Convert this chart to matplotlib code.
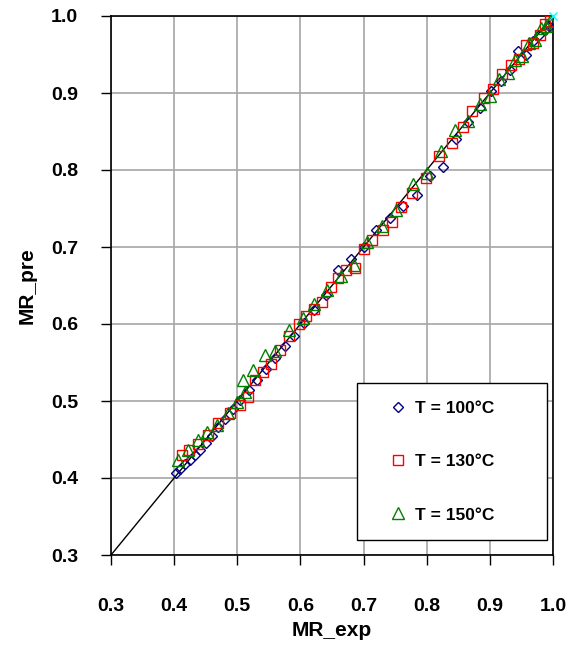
import matplotlib
matplotlib.use("Agg")
import matplotlib.pyplot as plt

plt.rcParams['font.family'] = ['Liberation Sans', 'DejaVu Sans']
plt.rcParams['font.weight'] = 'bold'

# Data
mr_exp_100 = [0.403, 0.410, 0.417, 0.425, 0.433, 0.441, 0.450, 0.460, 0.470, 0.481,
              0.493, 0.505, 0.518, 0.531, 0.545, 0.560, 0.575, 0.590, 0.606, 0.622,
              0.640, 0.660, 0.680, 0.700, 0.720, 0.742, 0.763, 0.785, 0.805, 0.826,
              0.846, 0.866, 0.885, 0.902, 0.918, 0.932, 0.945, 0.957, 0.968, 0.978,
              0.987, 0.994, 1.000]
mr_pre_100 = [0.407, 0.412, 0.418, 0.423, 0.430, 0.437, 0.446, 0.455, 0.466, 0.477,
              0.489, 0.501, 0.514, 0.527, 0.541, 0.556, 0.572, 0.585, 0.601, 0.618,
              0.638, 0.670, 0.684, 0.700, 0.722, 0.738, 0.753, 0.768, 0.792, 0.804,
              0.840, 0.862, 0.880, 0.902, 0.915, 0.930, 0.955, 0.950, 0.968, 0.975,
              0.982, 0.987, 0.992]

mr_exp_130 = [0.412, 0.424, 0.438, 0.454, 0.470, 0.488, 0.504, 0.517, 0.528, 0.540,
              0.553, 0.568, 0.582, 0.598, 0.609, 0.622, 0.634, 0.648, 0.660, 0.672,
              0.686, 0.700, 0.713, 0.730, 0.745, 0.760, 0.777, 0.799, 0.820, 0.840,
              0.857, 0.872, 0.890, 0.905, 0.920, 0.933, 0.946, 0.958, 0.969, 0.979,
              0.988, 0.995]
mr_pre_130 = [0.430, 0.436, 0.444, 0.456, 0.471, 0.484, 0.495, 0.505, 0.527, 0.538,
              0.548, 0.566, 0.584, 0.600, 0.610, 0.620, 0.629, 0.648, 0.660, 0.670,
              0.673, 0.697, 0.709, 0.722, 0.732, 0.752, 0.770, 0.790, 0.818, 0.835,
              0.856, 0.877, 0.893, 0.905, 0.925, 0.936, 0.944, 0.962, 0.965, 0.975,
              0.990, 0.993]

mr_exp_150 = [0.406, 0.422, 0.438, 0.452, 0.468, 0.485, 0.500, 0.509, 0.512, 0.525,
              0.544, 0.560, 0.582, 0.604, 0.622, 0.642, 0.664, 0.685, 0.706, 0.729,
              0.751, 0.778, 0.800, 0.822, 0.845, 0.866, 0.884, 0.900, 0.915, 0.928,
              0.940, 0.951, 0.962, 0.972, 0.981, 0.989, 0.996]
mr_pre_150 = [0.423, 0.436, 0.449, 0.460, 0.469, 0.484, 0.499, 0.527, 0.512, 0.540,
              0.560, 0.565, 0.592, 0.608, 0.626, 0.644, 0.662, 0.677, 0.706, 0.727,
              0.748, 0.782, 0.796, 0.825, 0.852, 0.864, 0.886, 0.896, 0.918, 0.926,
              0.943, 0.948, 0.965, 0.969, 0.984, 0.987, 0.994]

ref_x = [0.3, 1.0]
ref_y = [0.3, 1.0]

labels = ['T = 100°C', 'T = 130°C', 'T = 150°C']
ticks = [0.3, 0.4, 0.5, 0.6, 0.7, 0.8, 0.9, 1.0]
tick_labels = ['0.3', '0.4', '0.5', '0.6', '0.7', '0.8', '0.9', '1.0']

fig = plt.figure(figsize=(5.82, 6.55), dpi=100)
ax = fig.add_axes([111/582, 1-555/655, 442/582, 539/655])

ax.plot(ref_x, ref_y, color='black', lw=1.0, zorder=2)
ax.plot(mr_exp_100, mr_pre_100, linestyle='none', marker='D', ms=5.5, mfc='none',
        mec='#000080', mew=1.0, label=labels[0], zorder=3)
ax.plot(mr_exp_130, mr_pre_130, linestyle='none', marker='s', ms=7.5, mfc='none',
        mec='#FF0000', mew=1.0, label=labels[1], zorder=3)
ax.plot(mr_exp_150, mr_pre_150, linestyle='none', marker='^', ms=8, mfc='none',
        mec='#008000', mew=1.0, label=labels[2], zorder=3)
ax.plot([1.0], [1.0], linestyle='none', marker='x', ms=6, color='#00FFFF', mew=1.0,
        zorder=4, clip_on=False)

ax.set_xlim(0.3, 1.0)
ax.set_ylim(0.3, 1.0)
ax.set_xticks(ticks)
ax.set_xticklabels(tick_labels)
ax.set_yticks(ticks)
ax.set_yticklabels(tick_labels)
ax.grid(True, color='#a6a6a6', lw=1.2)
ax.set_axisbelow(True)

for s in ax.spines.values():
    s.set_color('black')
    s.set_linewidth(1.2)

ax.tick_params(axis='both', direction='out', length=7.2, width=1.0, colors='black',
               labelsize=14)
ax.tick_params(axis='x', pad=24)
ax.tick_params(axis='y', pad=16.5)
for lab in ax.get_xticklabels() + ax.get_yticklabels():
    lab.set_fontweight('bold')

ax.set_xlabel('MR_exp', fontsize=15, fontweight='bold', labelpad=4)
ax.set_ylabel('MR_pre', fontsize=15, fontweight='bold', labelpad=10)

leg = ax.legend(loc='lower left', bbox_to_anchor=(0.557, 0.028, 0.429, 0.291),
                mode='expand', borderaxespad=0, frameon=True, fancybox=False,
                borderpad=1.0, labelspacing=2.2, handlelength=2.75,
                handletextpad=-0.4, prop={'weight': 'bold', 'size': 12.5})
leg.get_frame().set_edgecolor('black')
leg.get_frame().set_linewidth(1.0)
leg.get_frame().set_alpha(1)

fig.savefig('out.png', dpi=100)
